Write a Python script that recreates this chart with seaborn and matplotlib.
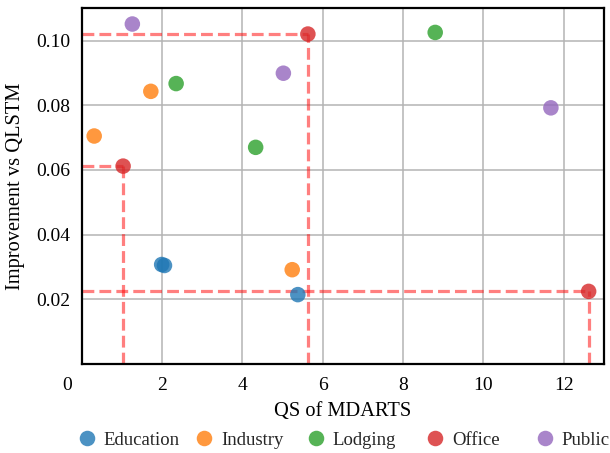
import matplotlib
matplotlib.use("Agg")
import matplotlib.pyplot as plt
import matplotlib.transforms as mtransforms
import pandas as pd
import seaborn as sns

# Building categories and measured points
categories = ["Education", "Industry", "Lodging", "Office", "Public"]

education_qs = [1.99, 2.06, 5.38]
education_imp = [0.0308, 0.0305, 0.0215]

industry_qs = [0.31, 1.72, 5.24]
industry_imp = [0.0705, 0.0843, 0.0292]

lodging_qs = [2.35, 4.33, 8.80]
lodging_imp = [0.0867, 0.0670, 0.1025]

office_qs = [1.03, 5.63, 12.62]
office_imp = [0.0612, 0.1020, 0.0225]

public_qs = [1.26, 5.02, 11.68]
public_imp = [0.1051, 0.0899, 0.0792]

x_ticks = [0, 2, 4, 6, 8, 10, 12]
x_tick_labels = ["0", "2", "4", "6", "8", "10", "12"]
y_ticks = [0.0, 0.02, 0.04, 0.06, 0.08, 0.10]
y_tick_labels = ["", "0.02", "0.04", "0.06", "0.08", "0.10"]

series = {
    "Education": (education_qs, education_imp),
    "Industry": (industry_qs, industry_imp),
    "Lodging": (lodging_qs, lodging_imp),
    "Office": (office_qs, office_imp),
    "Public": (public_qs, public_imp),
}
rows = []
for cat in categories:
    xs, ys = series[cat]
    for xv, yv in zip(xs, ys):
        rows.append({"QS": xv, "Improvement": yv, "Building": cat})
df = pd.DataFrame(rows)

sns.set_theme(style="white")
plt.rcParams["font.family"] = ["Liberation Serif", "DejaVu Serif"]
plt.rcParams["mathtext.fontset"] = "stix"

fig = plt.figure(figsize=(6.1, 4.53), dpi=100)
ax = fig.add_axes([0.134, 0.196, 0.856, 0.786])

palette = dict(zip(categories, sns.color_palette("tab10", 5)))
sns.scatterplot(
    data=df, x="QS", y="Improvement", hue="Building", hue_order=categories,
    palette=palette, s=125, alpha=0.8, linewidth=0, ax=ax, zorder=3,
)
handles, labels = ax.get_legend_handles_labels()
ax.get_legend().remove()

# Dashed guides from each Office point to both axes
for xv, yv in zip(office_qs, office_imp):
    ax.plot([0, xv], [yv, yv], color="red", alpha=0.5, lw=2.3, ls=(0, (3.7, 1.6)), zorder=2)
    ax.plot([xv, xv], [0, yv], color="red", alpha=0.5, lw=2.3, ls=(0, (3.7, 1.6)), zorder=2)

ax.set_xlim(0, 13)
ax.set_ylim(0, 0.11)
ax.set_xticks(x_ticks)
ax.set_xticklabels(x_tick_labels)
ax.set_yticks(y_ticks)
ax.set_yticklabels(y_tick_labels)
ax.grid(True, color="#b4b4b4", lw=1.1)
ax.set_axisbelow(True)

ax.tick_params(axis="both", direction="in", length=3, width=1, color="black",
               labelsize=14, labelcolor="black")
ax.tick_params(axis="x", pad=9)
ax.tick_params(axis="y", pad=8)
for sp in ax.spines.values():
    sp.set_visible(True)
    sp.set_color("black")
    sp.set_linewidth(1.6)

# Shift the origin label left of the corner
shift = mtransforms.ScaledTranslation(-15 / 100, 0, fig.dpi_scale_trans)
lbl0 = ax.get_xticklabels()[0]
lbl0.set_transform(lbl0.get_transform() + shift)

ax.set_xlabel("QS of MDARTS", fontsize=14.7, color="black", labelpad=6)
ax.set_ylabel("Improvement vs QLSTM", fontsize=14.7, color="black", labelpad=8)

# One legend entry per slot along the bottom
slot_left_px = [77.6, 194.6, 306.6, 425.6, 535.6]
for h, lab, px in zip(handles, labels, slot_left_px):
    fig.legend([h], [lab], loc="center left", bbox_to_anchor=(px / 610, 1 - 440 / 453),
               frameon=False, fontsize=13.5, handlelength=1.0, handletextpad=0.4,
               borderpad=0, borderaxespad=0, markerscale=1.0)

fig.savefig("out.png", dpi=100)
